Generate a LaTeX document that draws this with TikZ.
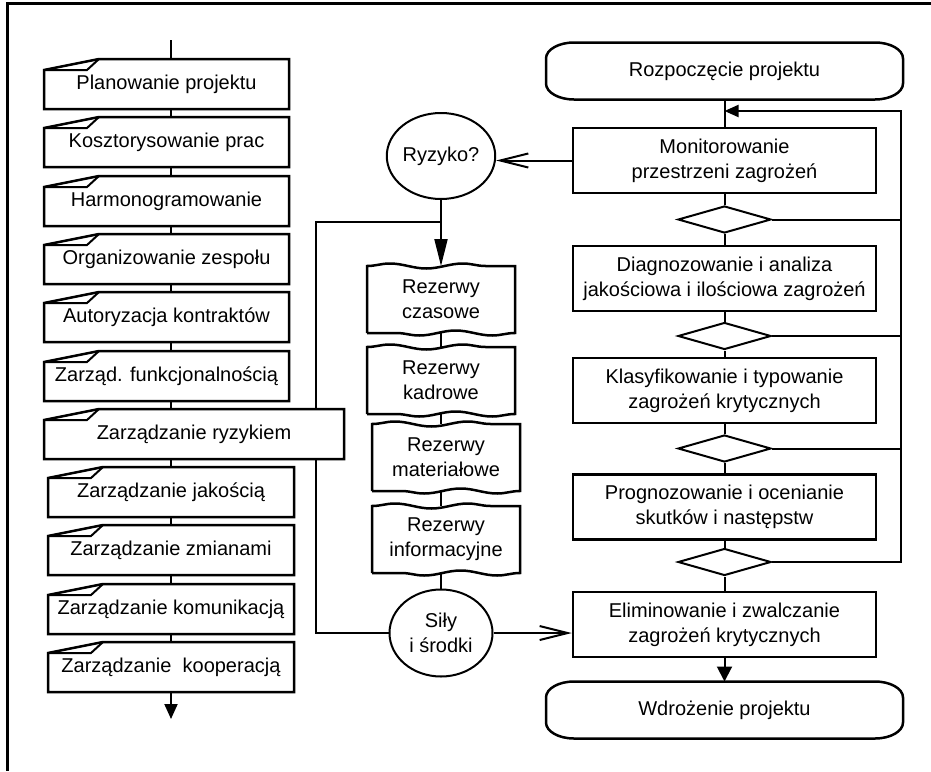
\documentclass[tikz,border=0pt]{standalone}
\usepackage{fontspec}
\setmainfont{Liberation Sans}
\usetikzlibrary{arrows.meta}
\usetikzlibrary{shapes.geometric}
\usetikzlibrary{decorations.pathmorphing}

% outlines drawn round the named nodes
\newcommand{\cardbox}[1]{%
    \draw [line width=2.5pt] (#1.south west) -- ([yshift=-11pt]#1.north west) -- ([xshift=55pt]#1.north west) -- (#1.north east) -- (#1.south east) -- cycle;
    \draw ([yshift=-11pt]#1.north west) -- ([xshift=43pt, yshift=-11pt]#1.north west) -- ([xshift=55pt]#1.north west);}
\newcommand{\wavebox}[1]{%
    \draw [line width=2.5pt] (#1.south west) -- (#1.north west) decorate [decoration={snake, segment length=73pt, amplitude=2.5pt}] {-- (#1.north east)} -- (#1.south east) decorate [decoration={snake, segment length=73pt, amplitude=2.5pt}] {-- (#1.south west)};}
\newcommand{\terminal}[1]{%
    \draw [line width=2.5pt] ([xshift=28pt]#1.north west) -- ([xshift=-28pt]#1.north east) arc [start angle=90, end angle=0, x radius=28pt, y radius=16pt]
    -- ([yshift=16pt]#1.south east) arc [start angle=0, end angle=-90, x radius=28pt, y radius=16pt]
    -- ([xshift=28pt]#1.south west) arc [start angle=270, end angle=180, x radius=28pt, y radius=16pt]
    -- ([yshift=-16pt]#1.north west) arc [start angle=180, end angle=90, x radius=28pt, y radius=16pt] -- cycle;}

\begin{document}
\begin{tikzpicture}[x=1pt, y=-1pt, line width=2pt,
    txt/.style={font=\fontsize{20}{25}\selectfont, align=center, inner sep=0pt},
    card/.style={txt, minimum width=243pt, minimum height=48pt},
    proc/.style={txt, draw, line width=2.5pt, minimum width=303pt, minimum height=65pt},
    dec/.style={draw, diamond, minimum width=93pt, minimum height=27pt, inner sep=0pt},
    oval/.style={txt, draw, ellipse, minimum width=103pt, minimum height=86pt},
    rez/.style={txt, minimum width=146pt, minimum height=65pt},
    term/.style={txt, minimum width=355pt, minimum height=55pt}]
    \useasboundingbox (0, 0) rectangle (931, 771);
    \draw [line width=3pt] (931, 3) -- (7, 3) -- (7, 771);

    % left column
    \node [card] (plan) at (166.5, 84) {Planowanie projektu};
    \node [card] (koszt) at (166.5, 142) {Kosztorysowanie prac};
    \node [card] (harm) at (166.5, 201) {Harmonogramowanie};
    \node [card] (org) at (166.5, 259) {Organizowanie zespołu};
    \node [card] (aut) at (166.5, 317) {Autoryzacja kontraktów};
    \node [card] (funk) at (166.5, 376) {Zarząd. funkcjonalnością};
    \node [card, minimum width=298pt] (ryzyk) at (194, 434) {Zarządzanie ryzykiem};
    \node [card, minimum width=244pt] (jak) at (171, 492) {Zarządzanie jakością};
    \node [card, minimum width=244pt] (zmian) at (171, 550) {Zarządzanie zmianami};
    \node [card, minimum width=244pt] (kom) at (171, 609) {Zarządzanie komunikacją};
    \node [card, minimum width=244pt] (koop) at (171, 667) {Zarządzanie\ \ kooperacją};
    \cardbox{plan} \cardbox{koszt} \cardbox{harm} \cardbox{org} \cardbox{aut} \cardbox{funk}
    \cardbox{ryzyk} \cardbox{jak} \cardbox{zmian} \cardbox{kom} \cardbox{koop}

    \coordinate (flowtop) at (171, 40);
    \coordinate (flowend) at (171, 719);
    \draw (flowtop) -- (flowtop |- plan.north);
    \draw (plan.south -| flowtop) -- (koszt.north -| flowtop);
    \draw (koszt.south -| flowtop) -- (harm.north -| flowtop);
    \draw (harm.south -| flowtop) -- (org.north -| flowtop);
    \draw (org.south -| flowtop) -- (aut.north -| flowtop);
    \draw (aut.south -| flowtop) -- (funk.north -| flowtop);
    \draw (funk.south -| flowtop) -- (ryzyk.north -| flowtop);
    \draw (ryzyk.south -| flowtop) -- (jak.north -| flowtop);
    \draw (jak.south -| flowtop) -- (zmian.north -| flowtop);
    \draw (zmian.south -| flowtop) -- (kom.north -| flowtop);
    \draw (kom.south -| flowtop) -- (koop.north -| flowtop);
    \draw [-{Triangle[length=15pt, width=13pt]}] (koop.south -| flowtop) -- (flowend);

    % middle column
    \node [oval] (ryzyko) at (441, 156) {Ryzyko?};
    \node [rez] (czas) at (441, 299.5) {Rezerwy\\czasowe};
    \node [rez] (kadr) at (441, 380.5) {Rezerwy\\kadrowe};
    \node [rez] (mater) at (446, 457.5) {Rezerwy\\materiałowe};
    \node [rez] (info) at (446, 539.5) {Rezerwy\\informacyjne};
    \node [oval, minimum height=87pt] (sily) at (441, 633) {Siły\\i środki};
    \wavebox{czas} \wavebox{kadr} \wavebox{mater} \wavebox{info}

    \coordinate (rup) at (316, 222);
    \coordinate (rdown) at (316, 633);
    \draw [-{Triangle[length=27pt, width=13pt]}] (ryzyko.south) -- (czas.north);
    \draw (czas.south) -- (kadr.north);
    \draw (kadr.south) -- (kadr.south |- mater.north);
    \draw (mater.south -| kadr.south) -- (info.north -| kadr.south);
    \draw (info.south -| kadr.south) -- (sily.north);
    \draw (ryzyk.north -| rup) -- (rup) -- (rup -| ryzyko.south);
    \draw (ryzyk.south -| rdown) -- (rdown) -- (sily.west);

    % right column
    \node [term] (start) at (724.5, 71) {Rozpoczęcie projektu};
    \node [proc] (monit) at (724.5, 160.5) {Monitorowanie\\przestrzeni zagrożeń};
    \node [dec] (d1) at (724.5, 219.5) {};
    \node [proc] (diag) at (724.5, 278.5) {Diagnozowanie i analiza\\jakościowa i ilościowa zagrożeń};
    \node [dec] (d2) at (724.5, 336) {};
    \node [proc] (klas) at (724.5, 390.5) {Klasyfikowanie i typowanie\\zagrożeń krytycznych};
    \node [dec] (d3) at (724.5, 448.5) {};
    \node [proc] (prog) at (724.5, 507) {Prognozowanie i ocenianie\\skutków i następstw};
    \node [dec] (d4) at (724.5, 562) {};
    \node [proc] (elim) at (724.5, 624.5) {Eliminowanie i zwalczanie\\zagrożeń krytycznych};
    \node [term] (stop) at (724.5, 710) {Wdrożenie projektu};
    \terminal{start} \terminal{stop}

    \coordinate (back) at (901, 111);
    \draw (start.south) -- (monit.north);
    \draw (monit.south) -- (d1.north);
    \draw (d1.south) -- (diag.north);
    \draw (diag.south) -- (d2.north);
    \draw (d2.south) -- (klas.north);
    \draw (klas.south) -- (d3.north);
    \draw (d3.south) -- (prog.north);
    \draw (prog.south) -- (d4.north);
    \draw (d4.south) -- (elim.north);
    \draw [-{Triangle[length=15pt, width=15pt]}] (elim.south) -- (stop.north);
    \draw (d1.east) -- (d1.east -| back);
    \draw (d2.east) -- (d2.east -| back);
    \draw (d3.east) -- (d3.east -| back);
    \draw [-{Triangle[length=14pt, width=12pt]}] (d4.east) -| (back) -- (back -| start.south); % back to monitoring

    \draw [-{Straight Barb[length=28pt, width=14pt]}] (monit.west) -- (monit.west -| ryzyko.east);
    \draw [-{Straight Barb[length=28pt, width=14pt]}] (sily.east) -- (sily.east -| elim.west);
\end{tikzpicture}
\end{document}
